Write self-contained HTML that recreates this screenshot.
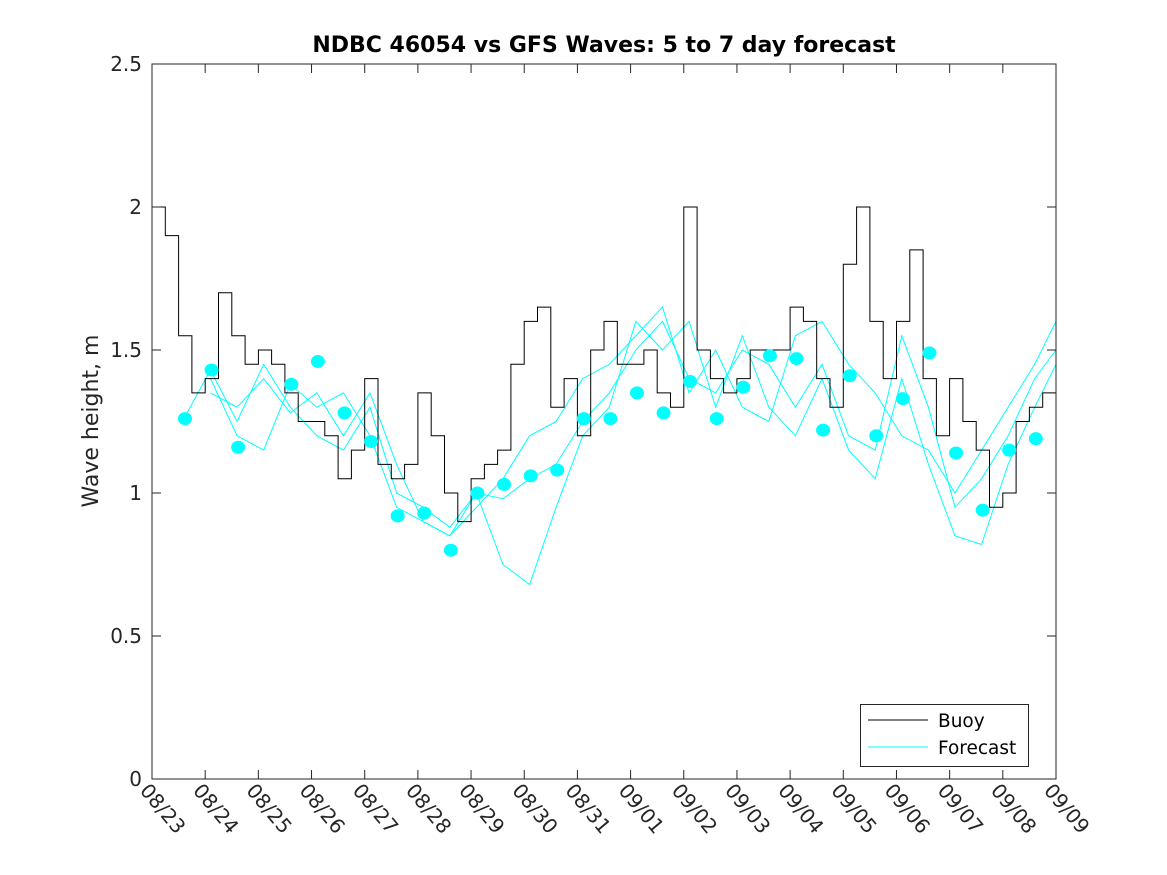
<!DOCTYPE html>
<html><head><meta charset="utf-8"><style>
html,body{margin:0;padding:0;background:#fff;}
svg{display:block;font-family:"DejaVu Sans","Liberation Sans",sans-serif;}
</style></head><body>
<svg id="chart" width="1167" height="875" viewBox="0 0 1167 875">
<rect x="0" y="0" width="1167" height="875" fill="#fff"/>
<text x="604" y="52" text-anchor="middle" font-size="22" font-weight="bold" fill="#000">NDBC 46054 vs GFS Waves: 5 to 7 day forecast</text>
<text transform="translate(98,421) rotate(-90)" text-anchor="middle" font-size="22" fill="#262626">Wave height, m</text>
<g id="grid"></g>
<g id="marks"></g>
<rect x="152" y="64" width="904" height="715" fill="none" stroke="#262626" stroke-width="1"/>
<g id="axes"></g>
<g>
<rect x="860.5" y="704.5" width="168" height="62" fill="#fff" stroke="#262626"/>
<line x1="868" y1="720" x2="928" y2="720" stroke="#000" stroke-width="1"/>
<text x="938" y="727" font-size="18.5" fill="#000">Buoy</text>
<line x1="868" y1="747" x2="928" y2="747" stroke="#00ffff" stroke-width="1"/>
<text x="938" y="754" font-size="18.5" fill="#000">Forecast</text>
</g>
</svg>
<script>
const xTickLabels = ["08/23","08/24","08/25","08/26","08/27","08/28","08/29","08/30","08/31","09/01","09/02","09/03","09/04","09/05","09/06","09/07","09/08","09/09"];
const yTicks = [0,0.5,1,1.5,2,2.5];
const yTickLabels = ["0","0.5","1","1.5","2","2.5"];
// buoy: wave height every 0.25 day starting 08/23 00:00
const buoyStep = 0.25;
const buoyValues = [2.0,1.9,1.55,1.35,1.4,1.7,1.55,1.45,1.5,1.45,1.35,1.25,1.25,1.2,1.05,1.15,1.4,1.1,1.05,1.1,1.35,1.2,1.0,0.9,1.05,1.1,1.15,1.45,1.6,1.65,1.3,1.4,1.2,1.5,1.6,
1.45,1.45,1.5,1.35,1.3,2.0,1.5,1.4,1.35,1.4,1.5,1.5,1.5,1.65,1.6,1.4,1.3,1.8,2.0,1.6,1.4,1.6,1.85,1.4,1.2,1.4,1.25,1.15,0.95,1.0,1.25,1.3,1.35,1.5];
const forecastDays = [0.6,1.1,1.6,2.1,2.6,3.1,3.6,4.1,4.6,5.1,5.6,6.1,6.6,7.1,7.6,8.1,8.6,9.1,9.6,10.1,10.6,11.1,11.6,12.1,12.6,13.1,13.6,14.1,14.6,15.1,15.6,16.1,16.6,17.0];
const forecastA = [1.26,1.43,1.25,1.45,1.3,1.2,1.15,1.3,1.0,0.95,0.88,1.0,0.98,1.05,1.1,1.25,1.35,1.5,1.6,1.4,1.35,1.5,1.45,1.3,1.45,1.2,1.15,1.55,1.3,0.95,1.05,1.2,1.4,1.5];
const forecastB = [null,1.4,1.2,1.15,1.38,1.3,1.35,1.2,0.95,0.9,0.85,1.0,0.75,0.68,0.95,1.2,1.3,1.6,1.5,1.6,1.3,1.55,1.3,1.2,1.4,1.15,1.05,1.4,1.1,0.85,0.82,1.1,1.3,1.45];
const forecastC = [null,1.35,1.3,1.4,1.28,1.35,1.2,1.35,1.1,0.9,0.85,0.95,1.05,1.2,1.25,1.4,1.45,1.55,1.65,1.35,1.5,1.3,1.25,1.55,1.6,1.45,1.35,1.2,1.15,1.0,1.15,1.3,1.45,1.6];
const dotDays = [0.62,1.12,1.62,2.62,3.12,3.62,4.12,4.62,5.12,5.62,6.12,6.62,7.12,7.62,8.12,8.62,9.12,9.62,10.12,10.62,11.12,11.62,12.12,12.62,13.12,13.62,14.12,14.62,15.12,15.62,16.12,16.62];
const dotValues = [1.26,1.43,1.16,1.38,1.46,1.28,1.18,0.92,0.93,0.80,1.00,1.03,1.06,1.08,1.26,1.26,1.35,1.28,1.39,1.26,1.37,1.48,1.47,1.22,1.41,1.20,1.33,1.49,1.14,0.94,1.15,1.19];

const NS="http://www.w3.org/2000/svg";
const X0=152,X1=1056,Y0=779,Y1=64,DAYS=17,YMAX=2.5;
function xs(d){return X0+(X1-X0)*d/DAYS;}
function ys(v){return Y0-(Y0-Y1)*v/YMAX;}
function mk(tag,attrs,parent){const e=document.createElementNS(NS,tag);for(const k in attrs)e.setAttribute(k,attrs[k]);parent.appendChild(e);return e;}
const axes=document.getElementById('axes'), marks=document.getElementById('marks');

yTicks.forEach((v,i)=>{
  const y=ys(v);
  const t1=mk('line',{x1:X0,y1:y,x2:X0+9,y2:y,stroke:'#262626'},axes);
  
  
  const t2=mk('line',{x1:X1-9,y1:y,x2:X1,y2:y,stroke:'#262626'},axes);
  
  
  const tx=mk('text',{x:X0-10,y:y+7,'text-anchor':'end','font-size':20,fill:'#262626'},axes);
  tx.textContent=yTickLabels[i];
  
  
});
xTickLabels.forEach((lab,i)=>{
  const x=xs(i);
  const t1=mk('line',{x1:x,y1:Y0,x2:x,y2:Y0-9,stroke:'#262626'},axes);
  
  
  const t2=mk('line',{x1:x,y1:Y1,x2:x,y2:Y1+9,stroke:'#262626'},axes);
  
  
  const tx=mk('text',{transform:`translate(${x-13},${Y0+12}) rotate(50)`,'font-size':20,fill:'#262626'},axes);
  tx.textContent=lab;
  
  
});
[forecastA,forecastB,forecastC].forEach((ser,si)=>{
  let d='';let pen=false;
  ser.forEach((v,i)=>{ if(v===null){pen=false;return;} d+=(pen?'L':'M')+xs(forecastDays[i]).toFixed(1)+','+ys(v).toFixed(1); pen=true;});
  const p=mk('path',{d:d,fill:'none',stroke:'#00ffff','stroke-width':1},marks);
  
  
});
{
  let d='';
  buoyValues.forEach((v,i)=>{
    const x=xs(i*buoyStep), y=ys(v);
    if(i===0) d+='M'+x.toFixed(1)+','+y.toFixed(1);
    else d+='V'+y.toFixed(1);
    if(i<buoyValues.length-1) d+='H'+xs((i+1)*buoyStep).toFixed(1);
  });
  const p=mk('path',{d:d,fill:'none',stroke:'#000','stroke-width':1},marks);
  
  
}
dotDays.forEach((d,i)=>{
  const c=mk('ellipse',{cx:xs(d),cy:ys(dotValues[i]),rx:7,ry:6.5,fill:'#00ffff'},marks);
  
  
});
</script>
</body></html>
